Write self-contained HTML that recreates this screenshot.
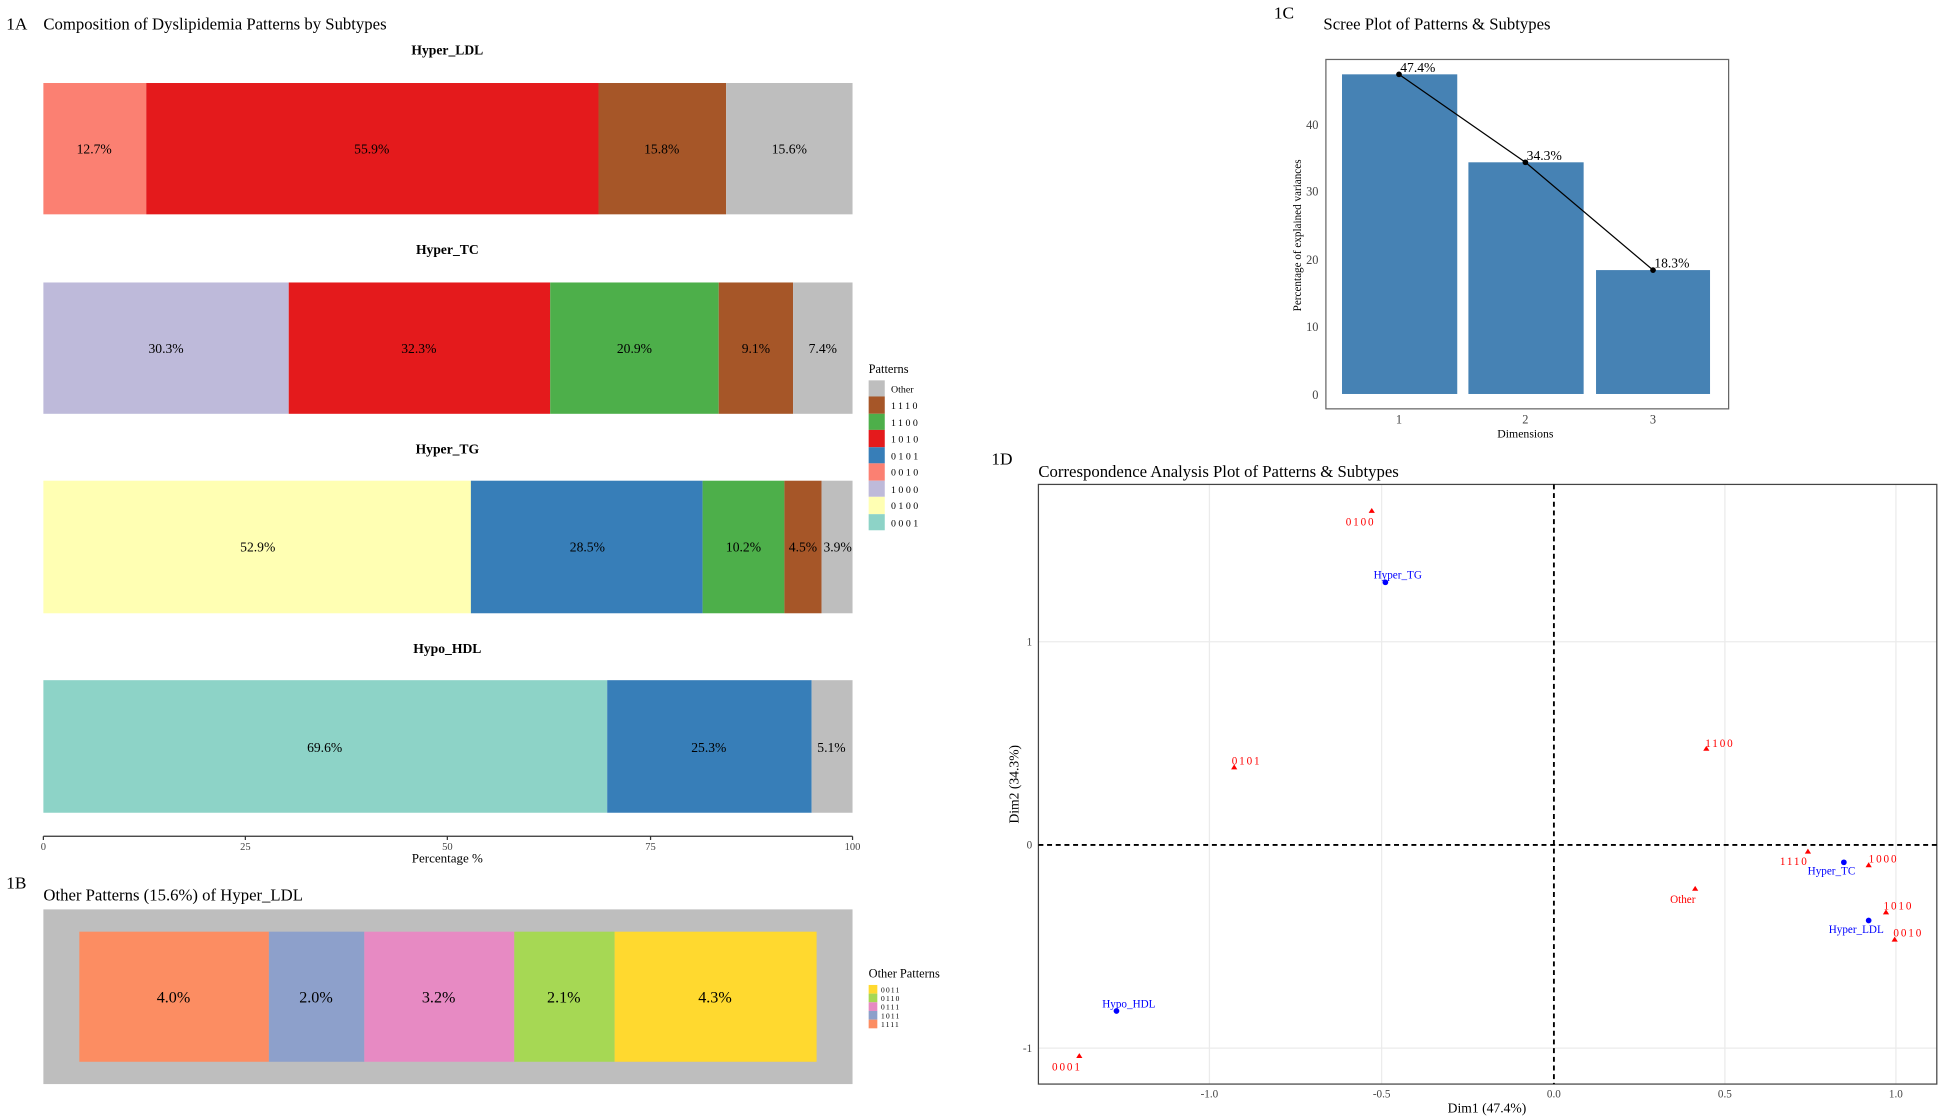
<!DOCTYPE html>
<html><head><meta charset="utf-8"><style>
html,body{margin:0;padding:0;background:#fff;overflow:hidden}
svg{display:block}
text{font-family:"Liberation Serif",serif;}
</style></head><body>
<svg width="1943" height="1120" viewBox="0 0 1568 904" preserveAspectRatio="none" xmlns="http://www.w3.org/2000/svg">
<rect width="1568" height="904" fill="#fff"/>
<!-- 1A -->
<text x="5" y="24" font-size="14">1A</text>
<text x="35" y="24" font-size="13.5">Composition of Dyslipidemia Patterns by Subtypes</text>
<g font-size="11" text-anchor="middle" font-weight="bold">
<text x="361" y="44">Hyper_LDL</text><text x="361" y="205">Hyper_TC</text><text x="361" y="366">Hyper_TG</text><text x="361" y="527">Hypo_HDL</text></g>
<g font-size="11" text-anchor="middle">
<rect x="35" y="67" width="83" height="106" fill="#FB8072"/><rect x="118" y="67" width="365" height="106" fill="#E41A1C"/><rect x="483" y="67" width="103" height="106" fill="#A65628"/><rect x="586" y="67" width="102" height="106" fill="#BEBEBE"/>
<text x="76" y="124">12.7%</text><text x="300" y="124">55.9%</text><text x="534" y="124">15.8%</text><text x="637" y="124">15.6%</text>
<rect x="35" y="228" width="198" height="106" fill="#BEBADA"/><rect x="233" y="228" width="211" height="106" fill="#E41A1C"/><rect x="444" y="228" width="136" height="106" fill="#4DAF4A"/><rect x="580" y="228" width="60" height="106" fill="#A65628"/><rect x="640" y="228" width="48" height="106" fill="#BEBEBE"/>
<text x="134" y="285">30.3%</text><text x="338" y="285">32.3%</text><text x="512" y="285">20.9%</text><text x="610" y="285">9.1%</text><text x="664" y="285">7.4%</text>
<rect x="35" y="388" width="345" height="107" fill="#FFFFB3"/><rect x="380" y="388" width="187" height="107" fill="#377EB8"/><rect x="567" y="388" width="66" height="107" fill="#4DAF4A"/><rect x="633" y="388" width="30" height="107" fill="#A65628"/><rect x="663" y="388" width="25" height="107" fill="#BEBEBE"/>
<text x="208" y="445">52.9%</text><text x="474" y="445">28.5%</text><text x="600" y="445">10.2%</text><text x="648" y="445">4.5%</text><text x="676" y="445">3.9%</text>
<rect x="35" y="549" width="455" height="107" fill="#8DD3C7"/><rect x="490" y="549" width="165" height="107" fill="#377EB8"/><rect x="655" y="549" width="33" height="107" fill="#BEBEBE"/>
<text x="262" y="607">69.6%</text><text x="572" y="607">25.3%</text><text x="671" y="607">5.1%</text>
</g>
<line x1="35" y1="675" x2="688" y2="675" stroke="#333" stroke-width="1"/>
<g stroke="#333"><line x1="35" y1="675" x2="35" y2="678"/><line x1="198" y1="675" x2="198" y2="678"/><line x1="361" y1="675" x2="361" y2="678"/><line x1="525" y1="675" x2="525" y2="678"/><line x1="688" y1="675" x2="688" y2="678"/></g>
<g font-size="8.5" fill="#444" text-anchor="middle"><text x="35" y="686">0</text><text x="198" y="686">25</text><text x="361" y="686">50</text><text x="525" y="686">75</text><text x="688" y="686">100</text></g>
<text x="361" y="696" font-size="10.5" text-anchor="middle">Percentage %</text>
<text x="701" y="301" font-size="10">Patterns</text>
<g font-size="8">
<rect x="701" y="307" width="13" height="13" fill="#BEBEBE"/><text x="719" y="317">Other</text>
<rect x="701" y="320" width="13" height="14" fill="#A65628"/><text x="719" y="330" letter-spacing="2">1110</text>
<rect x="701" y="334" width="13" height="13" fill="#4DAF4A"/><text x="719" y="344" letter-spacing="2">1100</text>
<rect x="701" y="347" width="13" height="14" fill="#E41A1C"/><text x="719" y="357" letter-spacing="2">1010</text>
<rect x="701" y="361" width="13" height="13" fill="#377EB8"/><text x="719" y="371" letter-spacing="2">0101</text>
<rect x="701" y="374" width="13" height="14" fill="#FB8072"/><text x="719" y="384" letter-spacing="2">0010</text>
<rect x="701" y="388" width="13" height="13" fill="#BEBADA"/><text x="719" y="398" letter-spacing="2">1000</text>
<rect x="701" y="401" width="13" height="14" fill="#FFFFB3"/><text x="719" y="411" letter-spacing="2">0100</text>
<rect x="701" y="415" width="13" height="13" fill="#8DD3C7"/><text x="719" y="425" letter-spacing="2">0001</text>
</g>
<!-- 1B -->
<text x="5" y="717" font-size="14">1B</text>
<text x="35" y="727" font-size="13.5">Other Patterns (15.6%) of Hyper_LDL</text>
<rect x="35" y="734" width="653" height="141" fill="#BEBEBE"/>
<g font-size="13" text-anchor="middle">
<rect x="64" y="752" width="153" height="105" fill="#FC8D62"/><text x="140" y="809">4.0%</text>
<rect x="217" y="752" width="77" height="105" fill="#8DA0CB"/><text x="255" y="809">2.0%</text>
<rect x="294" y="752" width="121" height="105" fill="#E78AC3"/><text x="354" y="809">3.2%</text>
<rect x="415" y="752" width="81" height="105" fill="#A6D854"/><text x="455" y="809">2.1%</text>
<rect x="496" y="752" width="163" height="105" fill="#FFD92F"/><text x="577" y="809">4.3%</text>
</g>
<text x="701" y="789" font-size="10">Other Patterns</text>
<g font-size="6" letter-spacing="1">
<rect x="701" y="795" width="7" height="7" fill="#FFD92F"/><text x="711" y="801">0011</text>
<rect x="701" y="802" width="7" height="7" fill="#A6D854"/><text x="711" y="808">0110</text>
<rect x="701" y="809" width="7" height="7" fill="#E78AC3"/><text x="711" y="815">0111</text>
<rect x="701" y="816" width="7" height="7" fill="#8DA0CB"/><text x="711" y="822">1011</text>
<rect x="701" y="823" width="7" height="7" fill="#FC8D62"/><text x="711" y="829">1111</text>
</g>
<!-- 1C -->
<text x="1028" y="15" font-size="14">1C</text>
<text x="1068" y="24" font-size="13.5">Scree Plot of Patterns &amp; Subtypes</text>
<rect x="1070" y="48" width="325" height="282" fill="#fff" stroke="#666" stroke-width="1"/>
<g fill="#4682B4"><rect x="1083" y="60" width="93" height="258"/><rect x="1185" y="131" width="93" height="187"/><rect x="1288" y="218" width="92" height="100"/></g>
<polyline points="1129,60 1231,131 1334,218" fill="none" stroke="#000" stroke-width="1"/>
<circle cx="1129" cy="60" r="2.3"/><circle cx="1231" cy="131" r="2.3"/><circle cx="1334" cy="218" r="2.3"/>
<g font-size="11"><text x="1130" y="58">47.4%</text><text x="1232" y="129">34.3%</text><text x="1335" y="216">18.3%</text></g>
<g font-size="10" fill="#444" text-anchor="end"><text x="1064" y="322">0</text><text x="1064" y="267">10</text><text x="1064" y="213">20</text><text x="1064" y="158">30</text><text x="1064" y="104">40</text></g>
<g font-size="10" fill="#444" text-anchor="middle"><text x="1129" y="342">1</text><text x="1231" y="342">2</text><text x="1334" y="342">3</text></g>
<text x="1231" y="353" font-size="9.5" text-anchor="middle">Dimensions</text>
<text transform="translate(1050,190) rotate(-90)" font-size="9" text-anchor="middle">Percentage of explained variances</text>
<!-- 1D -->
<text x="800" y="375" font-size="14">1D</text>
<text x="838" y="385" font-size="13.5">Correspondence Analysis Plot of Patterns &amp; Subtypes</text>
<g stroke="#ebebeb" stroke-width="1">
<line x1="976" y1="391" x2="976" y2="875"/><line x1="1115" y1="391" x2="1115" y2="875"/><line x1="1392" y1="391" x2="1392" y2="875"/><line x1="1530" y1="391" x2="1530" y2="875"/>
<line x1="838" y1="518" x2="1563" y2="518"/><line x1="838" y1="846" x2="1563" y2="846"/></g>
<rect x="838" y="391" width="725" height="484" fill="none" stroke="#444" stroke-width="1"/>
<line x1="1254" y1="391" x2="1254" y2="875" stroke="#000" stroke-width="1.5" stroke-dasharray="4,3"/>
<line x1="838" y1="682" x2="1563" y2="682" stroke="#000" stroke-width="1.5" stroke-dasharray="4,3"/>
<g font-size="9" fill="#444" text-anchor="middle"><text x="976" y="886">-1.0</text><text x="1115" y="886">-0.5</text><text x="1254" y="886">0.0</text><text x="1392" y="886">0.5</text><text x="1530" y="886">1.0</text></g>
<g font-size="9" fill="#444" text-anchor="end"><text x="833" y="521">1</text><text x="833" y="685">0</text><text x="833" y="849">-1</text></g>
<text x="1200" y="898" font-size="11" text-anchor="middle">Dim1 (47.4%)</text>
<text transform="translate(822,633) rotate(-90)" font-size="11" text-anchor="middle">Dim2 (34.3%)</text>
<g fill="#f00">
<path d="M1107,410 l2.5,4 h-5z"/><path d="M996,617 l2.5,4 h-5z"/><path d="M1377,602 l2.5,4 h-5z"/><path d="M1459,685 l2.5,4 h-5z"/><path d="M1508,696 l2.5,4 h-5z"/><path d="M1368,715 l2.5,4 h-5z"/><path d="M1522,734 l2.5,4 h-5z"/><path d="M1529,756 l2.5,4 h-5z"/><path d="M871,850 l2.5,4 h-5z"/>
</g>
<g fill="#00f"><circle cx="1118" cy="470" r="2.3"/><circle cx="1488" cy="696" r="2.3"/><circle cx="1508" cy="743" r="2.3"/><circle cx="901" cy="816" r="2.3"/></g>
<g font-size="9" fill="#f00" text-anchor="middle" letter-spacing="1.5">
<text x="1098" y="424">0100</text><text x="1006" y="617">0101</text><text x="1388" y="603">1100</text><text x="1448" y="698">1110</text><text x="1520" y="696">1000</text><text x="1532" y="734">1010</text><text x="1540" y="756">0010</text><text x="861" y="864">0001</text>
</g>
<text x="1358" y="729" font-size="9" fill="#f00" text-anchor="middle">Other</text>
<g font-size="9" fill="#00f" text-anchor="middle">
<text x="1128" y="467">Hyper_TG</text><text x="1478" y="706">Hyper_TC</text><text x="1498" y="753">Hyper_LDL</text><text x="911" y="813">Hypo_HDL</text>
</g>
</svg>
</body></html>
